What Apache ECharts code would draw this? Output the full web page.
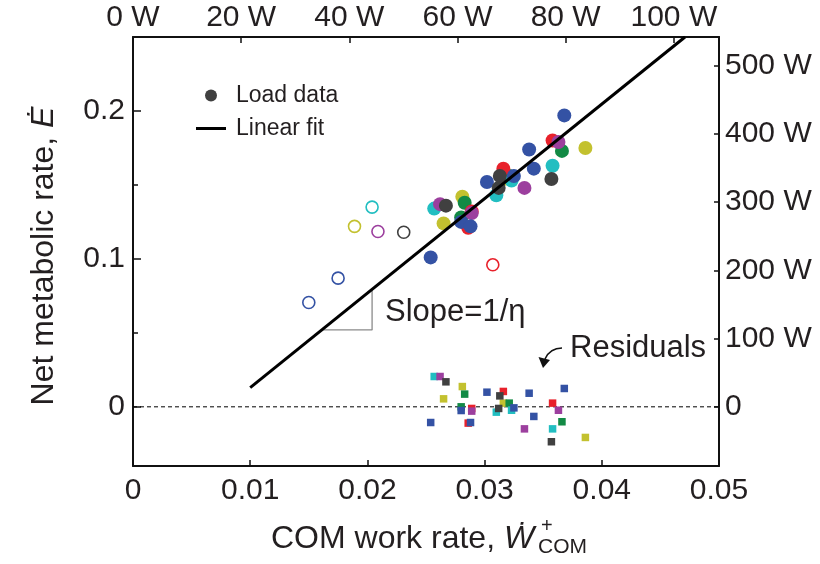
<!DOCTYPE html>
<html><head><meta charset="utf-8">
<script src="https://cdn.jsdelivr.net/npm/echarts@6/dist/echarts.min.js"></script>
<style>html,body{margin:0;padding:0;background:#fff}#c{width:820px;height:564px}</style>
</head><body><div id="c"></div>
<script>
// ---------- data ----------
const palette = {blue:'#3452a4', red:'#e8212b', purple:'#9c3f9e', green:'#128a45', yellow:'#c3c12f', cyan:'#22bec1', dark:'#404040'};
const drawOrder = ['yellow','green','cyan','red','purple','blue','dark'];

const loadGroup = ['cyan','purple','dark','yellow','green','yellow','green','blue','red','purple','blue','blue','red','blue','dark','red','yellow','green','dark','cyan','blue','cyan','blue','blue','purple','blue','red','purple','green','cyan','dark','yellow'];
const loadX = [0.0257,0.0262,0.0267,0.0281,0.0283,0.0265,0.0280,0.0280,0.0289,0.0289,0.0254,0.0288,0.0286,0.0302,0.0313,0.0316,0.0316,0.0321,0.0312,0.0310,0.0325,0.0323,0.0338,0.0342,0.0334,0.0368,0.0358,0.0363,0.0366,0.0358,0.0357,0.0386];
const loadY = [0.134,0.137,0.136,0.142,0.138,0.124,0.128,0.125,0.132,0.131,0.101,0.122,0.121,0.152,0.156,0.161,0.154,0.156,0.148,0.143,0.156,0.153,0.174,0.161,0.148,0.197,0.180,0.179,0.173,0.163,0.154,0.175];
const residualY = [0.0205,0.0205,0.0169,0.0137,0.0086,0.0054,0.0000,-0.0025,-0.0011,-0.0029,-0.0106,-0.0106,-0.0110,0.0099,0.0074,0.0104,0.0025,0.0025,-0.0011,-0.0036,-0.0007,-0.0023,0.0092,-0.0065,-0.0149,0.0124,0.0025,-0.0023,-0.0101,-0.0149,-0.0236,-0.0207];

const openGroup = ['cyan','yellow','purple','dark','blue','blue','red'];
const openX = [0.0204,0.0189,0.0209,0.0231,0.0175,0.0150,0.0307];
const openY = [0.135,0.122,0.1185,0.118,0.087,0.0705,0.096];

const fitX = [0.010, 0.0471];
const fitY = [0.013, 0.250];

const slopeGuideX = [0.0161, 0.0204, 0.0204];
const slopeGuideY = [0.052, 0.052, 0.0785];

const bottomLabels = [0, 0.01, 0.02, 0.03, 0.04, 0.05];
const leftLabels = [0, 0.1, 0.2];
const leftMinorTicks = [0.05, 0.15];
const topLabels = [0, 20, 40, 60, 80, 100];      // W
const rightLabels = [0, 100, 200, 300, 400, 500]; // W
const wattsPerUnit = 2167;
const xRange = [0, 0.05];
const yRange = [-0.04, 0.25];

// ---------- chart ----------
const FONT = 'Liberation Sans, Arial, Helvetica, sans-serif';
const TXT = '#231f20';
const chart = echarts.init(document.getElementById('c'), null, {renderer:'canvas'});

function zip(xs, ys){ return xs.map((x,i)=>[x, ys[i]]); }
function ordered(groups){
  const idx = groups.map((g,i)=>i);
  return idx.sort((a,b)=>drawOrder.indexOf(groups[a]) - drawOrder.indexOf(groups[b]) || a-b);
}
const loadIdx = ordered(loadGroup);
const openIdx = ordered(openGroup);

const axisLineStyle = {show:true, onZero:false, lineStyle:{color:'#111', width:2}};
const tickStyle = {color:'#111', width:1.5};
const labelBase = {fontSize:30, color:TXT, fontFamily:FONT};

const option = {
  animation:false,
  backgroundColor:'#fff',
  grid:{left:133, right:101, top:37, bottom:98, containLabel:false},
  legend:{
    left:196, top:84, padding:0, orient:'vertical', itemWidth:30, itemHeight:12, itemGap:10,
    selectedMode:false,
    textStyle:{fontSize:23, color:TXT, fontFamily:FONT, lineHeight:22, padding:[0,0,0,5]},
    data:[
      {name:'Load data', icon:'circle', itemStyle:{color:'#404040', opacity:1}},
      {name:'Linear fit', icon:'path://M0,0H30V3H0Z', itemStyle:{color:'#000'}}
    ]
  },
  xAxis:[
    {type:'value', position:'bottom', min:xRange[0], max:xRange[1], interval:0.01,
     axisLine:axisLineStyle, splitLine:{show:false},
     axisTick:{inside:true, length:6, lineStyle:tickStyle, customValues:bottomLabels},
     axisLabel:Object.assign({margin:10, customValues:bottomLabels, formatter:v=> v===0?'0':v.toFixed(2)}, labelBase)},
    {type:'value', position:'top', min:xRange[0]*wattsPerUnit, max:xRange[1]*wattsPerUnit,
     axisLine:axisLineStyle, splitLine:{show:false},
     axisTick:{inside:true, length:6, lineStyle:tickStyle, customValues:topLabels},
     axisLabel:Object.assign({margin:4, customValues:topLabels, formatter:v=> v+' W'}, labelBase)}
  ],
  yAxis:[
    {type:'value', position:'left', min:yRange[0], max:yRange[1],
     axisLine:axisLineStyle, splitLine:{show:false},
     axisTick:{inside:true, length:8, lineStyle:tickStyle, customValues:leftLabels},
     axisLabel:Object.assign({margin:8, customValues:leftLabels, formatter:v=> v===0?'0':v.toFixed(1)}, labelBase)},
    {type:'value', position:'right', min:yRange[0]*wattsPerUnit, max:yRange[1]*wattsPerUnit,
     axisLine:axisLineStyle, splitLine:{show:false},
     axisTick:{inside:true, length:5, lineStyle:tickStyle, customValues:rightLabels},
     axisLabel:Object.assign({margin:6, customValues:rightLabels, formatter:v=> v===0?'0':v+' W'}, labelBase)},
    {type:'value', position:'left', offset:0, min:yRange[0], max:yRange[1],
     axisLine:{show:false, onZero:false}, splitLine:{show:false},
     axisTick:{inside:true, length:5, lineStyle:tickStyle, customValues:leftMinorTicks},
     axisLabel:{show:false}}
  ],
  series:[
    {type:'line', silent:true, data:[[xRange[0],0],[xRange[1],0]], symbol:'none',
     lineStyle:{color:'#000', width:1, type:[4,3]}, z:1},
    {type:'line', silent:true, data:zip(slopeGuideX, slopeGuideY), symbol:'none',
     lineStyle:{color:'#8a8a8a', width:1.3}, z:2},
    {type:'scatter', name:'Open', symbol:'circle', symbolSize:12, z:3,
     data:openIdx.map(i=>({value:[openX[i], openY[i]], itemStyle:{color:'#fff', borderColor:palette[openGroup[i]], borderWidth:1.6, opacity:1}}))},
    {type:'scatter', name:'Load data', symbol:'circle', symbolSize:14, z:4,
     data:loadIdx.map(i=>({value:[loadX[i], loadY[i]], itemStyle:{color:palette[loadGroup[i]], opacity:1}}))},
    {type:'scatter', name:'Residuals', symbol:'rect', symbolSize:7.5, z:4,
     data:loadIdx.map(i=>({value:[loadX[i], residualY[i]], itemStyle:{color:palette[loadGroup[i]], opacity:1}}))},
    {type:'line', name:'Linear fit', data:zip(fitX, fitY), symbol:'none', color:'#000',
     lineStyle:{color:'#000', width:3}, z:5}
  ],
  graphic:[
    {type:'text', x:44, y:256, rotation:Math.PI/2, z:10,
     style:{text:'Net metabolic rate, {i|Ė}', fill:TXT, font:'32px '+FONT, align:'center', verticalAlign:'middle',
            rich:{i:{fontStyle:'italic', fontSize:32, fontFamily:FONT, fill:TXT}}}},
    {type:'text', x:271, y:539, z:10,
     style:{text:'COM work rate, {i|Ẇ}', fill:TXT, font:'32px '+FONT, align:'left', verticalAlign:'middle',
            rich:{i:{fontStyle:'italic', fontSize:32, fontFamily:FONT, fill:TXT}}}},
    {type:'text', x:538, y:547, z:10,
     style:{text:'COM', fill:TXT, font:'21px '+FONT, align:'left', verticalAlign:'middle'}},
    {type:'text', x:541, y:526, z:10,
     style:{text:'+', fill:TXT, font:'20px '+FONT, align:'left', verticalAlign:'middle'}},
    {type:'text', x:385, y:312, z:10,
     style:{text:'Slope=1/η', fill:TXT, font:'31px '+FONT, align:'left', verticalAlign:'middle'}},
    {type:'text', x:570, y:348, z:10,
     style:{text:'Residuals', fill:TXT, font:'31px '+FONT, align:'left', verticalAlign:'middle'}},
    {type:'bezierCurve', z:10, shape:{x1:562, y1:348, cpx1:550, cpy1:348, x2:545, y2:359},
     style:{fill:null, stroke:'#111', lineWidth:1.6}},
    {type:'polygon', z:10, shape:{points:[[543,368],[538.5,357],[550,360]]},
     style:{fill:'#111'}}
  ]
};
chart.setOption(option);
</script></body></html>
